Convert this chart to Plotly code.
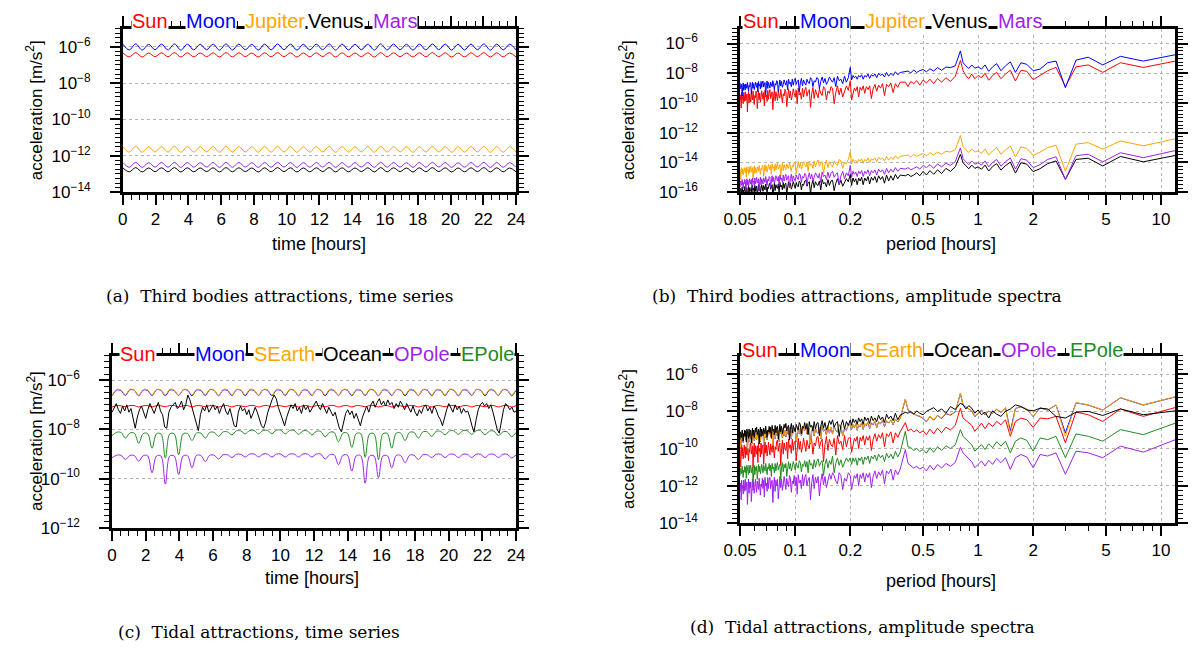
import numpy as np
import plotly.graph_objects as go

W, H = 1199, 652
SANS = "Liberation Sans, Arial, Helvetica, sans-serif"
SERIF = "DejaVu Serif, Liberation Serif, serif"

# ---------------------------------------------------------------- data
# values are log10 of acceleration [m/s^2]

# (a) third bodies, time series
t_a = np.linspace(0, 24, 62)
moon_a = [
 -5.85,-6.17,-5.84,-6.18,-5.86,-6.16,-5.85,-6.17,-5.84,-6.18,
 -5.85,-6.17,-5.86,-6.16,-5.85,-6.18,-5.84,-6.17,-5.85,-6.16,
 -5.86,-6.18,-5.85,-6.17,-5.84,-6.16,-5.85,-6.18,-5.86,-6.17,
 -5.85,-6.16,-5.84,-6.18,-5.85,-6.17,-5.86,-6.16,-5.85,-6.18,
 -5.84,-6.17,-5.85,-6.16,-5.86,-6.18,-5.85,-6.17,-5.84,-6.16,
 -5.85,-6.18,-5.86,-6.17,-5.85,-6.16,-5.84,-6.18,-5.85,-6.17,
 -5.86,-6.18]
sun_a = [
 -6.33,-6.55,-6.32,-6.56,-6.34,-6.54,-6.33,-6.55,-6.32,-6.56,
 -6.33,-6.55,-6.34,-6.54,-6.33,-6.56,-6.32,-6.55,-6.33,-6.54,
 -6.34,-6.56,-6.33,-6.55,-6.32,-6.54,-6.33,-6.56,-6.34,-6.55,
 -6.33,-6.54,-6.32,-6.56,-6.33,-6.55,-6.34,-6.54,-6.33,-6.56,
 -6.32,-6.55,-6.33,-6.54,-6.34,-6.56,-6.33,-6.55,-6.32,-6.54,
 -6.33,-6.56,-6.34,-6.55,-6.33,-6.54,-6.32,-6.56,-6.33,-6.55,
 -6.34,-6.56]
jupiter_a = [
 -11.49,-11.80,-11.48,-11.81,-11.50,-11.79,-11.49,-11.80,-11.48,-11.81,
 -11.49,-11.80,-11.50,-11.79,-11.49,-11.81,-11.48,-11.80,-11.49,-11.79,
 -11.50,-11.81,-11.49,-11.80,-11.48,-11.79,-11.49,-11.81,-11.50,-11.80,
 -11.49,-11.79,-11.48,-11.81,-11.49,-11.80,-11.50,-11.79,-11.49,-11.81,
 -11.48,-11.80,-11.49,-11.79,-11.50,-11.81,-11.49,-11.80,-11.48,-11.79,
 -11.49,-11.81,-11.50,-11.80,-11.49,-11.79,-11.48,-11.81,-11.49,-11.80,
 -11.50,-11.81]
venus_a = [
 -12.66,-12.88,-12.65,-12.89,-12.67,-12.87,-12.66,-12.88,-12.65,-12.89,
 -12.66,-12.88,-12.67,-12.87,-12.66,-12.89,-12.65,-12.88,-12.66,-12.87,
 -12.67,-12.89,-12.66,-12.88,-12.65,-12.87,-12.66,-12.89,-12.67,-12.88,
 -12.66,-12.87,-12.65,-12.89,-12.66,-12.88,-12.67,-12.87,-12.66,-12.89,
 -12.65,-12.88,-12.66,-12.87,-12.67,-12.89,-12.66,-12.88,-12.65,-12.87,
 -12.66,-12.89,-12.67,-12.88,-12.66,-12.87,-12.65,-12.89,-12.66,-12.88,
 -12.67,-12.89]
mars_a = [
 -12.37,-12.63,-12.36,-12.64,-12.38,-12.62,-12.37,-12.63,-12.36,-12.64,
 -12.37,-12.63,-12.38,-12.62,-12.37,-12.64,-12.36,-12.63,-12.37,-12.62,
 -12.38,-12.64,-12.37,-12.63,-12.36,-12.62,-12.37,-12.64,-12.38,-12.63,
 -12.37,-12.62,-12.36,-12.64,-12.37,-12.63,-12.38,-12.62,-12.37,-12.64,
 -12.36,-12.63,-12.37,-12.62,-12.38,-12.64,-12.37,-12.63,-12.36,-12.62,
 -12.37,-12.64,-12.38,-12.63,-12.37,-12.62,-12.36,-12.64,-12.37,-12.63,
 -12.38,-12.64]

# spectra: periods of the harmonics of a 24 h record
harmonics = list(range(2, 31)) + list(range(32, 61, 2)) + list(range(64, 121, 2)) + list(range(123, 481, 3))
period = [24.0 / k for k in harmonics]

# (b) third bodies, amplitude spectra
sun_b = [
 -7.18,-7.61,-7.29,-7.94,-7.44,-7.57,-8.90,-7.60,-7.83,-8.15,-8.43,-7.87,-7.80,-8.52,-7.80,-8.05,-8.37,-7.94,-8.15,-8.47,-8.00,-8.30,-8.15,-8.37,-8.05,-8.37,-8.15,-7.83,-7.14,
 -8.2,-8.55,-8.3,-8.6,-8.35,-8.7,-8.4,-8.65,-8.45,-8.8,-8.5,-8.7,-8.55,-8.9,-8.6,
 -8.6,-8.95,-8.7,-9.3,-8.65,-8.9,-8.75,-9.5,-8.7,-9.0,-8.8,-9.2,-8.75,-9.05,-9.7,-8.85,-9.1,-8.9,-9.35,-8.85,-9.15,-8.95,-9.6,-8.9,-9.2,-9.0,-9.4,-9.8,-8.5,
 -9.15,-8.85,-9.3,-9.6,-9.0,-9.45,-8.85,-9.3,-10.05,-9.0,
 -8.9,-9.35,-9.2,-9.8,-9.05,-8.9,-9.5,-9.35,-9.05,-9.65,
 -9.4,-9.1,-9.7,-8.95,-9.4,-10.3,-9.1,-9.25,-9.55,-8.95,
 -9.15,-9.6,-9.0,-9.75,-9.3,-9.45,-9.0,-10.05,-9.15,-9.6,
 -9.35,-9.05,-9.5,-9.8,-9.2,-9.65,-9.05,-9.5,-10.25,-9.2,
 -9.08,-9.53,-9.38,-9.98,-9.23,-9.08,-9.68,-9.53,-9.23,-9.83,
 -9.55,-9.25,-9.85,-9.1,-9.55,-10.45,-9.25,-9.4,-9.7,-9.1,
 -9.3,-9.75,-9.15,-9.9,-9.45,-9.6,-9.15,-10.2,-9.3,-9.75,
 -9.48,-9.18,-9.63,-9.93,-9.33,-9.78,-9.18,-9.63,-10.38,-9.33,
 -9.2,-9.65,-9.5,-10.1,-9.35,-9.2,-9.8,-9.65,-9.35,-9.95,
 -9.7,-9.4,-10.0,-9.25,-9.7,-10.6,-9.4,-9.55,-9.85,-9.25,
 -9.45,-9.9,-9.3,-10.05,-9.6,-9.75,-9.3,-10.35,-9.45,-9.9]
moon_b = [
 -6.75,-7.18,-6.86,-7.44,-6.92,-7.12,-8.97,-7.18,-7.29,-7.72,-7.83,-7.40,-7.29,-7.94,-7.23,-7.50,-7.83,-7.35,-7.57,-7.87,-7.44,-7.72,-7.57,-7.66,-7.44,-7.68,-7.50,-7.29,-6.50,
 -7.50,-7.62,-7.58,-7.80,-7.62,-7.85,-7.70,-7.90,-7.75,-7.82,-7.95,-7.78,-7.98,-7.85,-7.90,
 -7.95,-8.1,-7.9,-8.15,-8.0,-8.2,-7.95,-8.25,-8.05,-8.15,-8.0,-8.3,-8.05,-8.2,-8.1,-8.35,-8.05,-8.25,-8.15,-8.4,-8.1,-8.25,-8.15,-8.4,-8.2,-8.3,-8.15,-8.45,-7.6,
 -8.3,-8.6,-8.2,-8.7,-8.4,-8.5,-8.2,-8.9,-8.3,-8.6,
 -8.45,-8.25,-8.55,-8.75,-8.35,-8.65,-8.25,-8.55,-9.05,-8.35,
 -8.3,-8.6,-8.5,-8.9,-8.4,-8.3,-8.7,-8.6,-8.4,-8.8,
 -8.65,-8.45,-8.85,-8.35,-8.65,-9.25,-8.45,-8.55,-8.75,-8.35,
 -8.5,-8.8,-8.4,-8.9,-8.6,-8.7,-8.4,-9.1,-8.5,-8.8,
 -8.65,-8.45,-8.75,-8.95,-8.55,-8.85,-8.45,-8.75,-9.25,-8.55,
 -8.5,-8.8,-8.7,-9.1,-8.6,-8.5,-8.9,-8.8,-8.6,-9.0,
 -8.82,-8.62,-9.02,-8.52,-8.82,-9.42,-8.62,-8.72,-8.92,-8.52,
 -8.65,-8.95,-8.55,-9.05,-8.75,-8.85,-8.55,-9.25,-8.65,-8.95,
 -8.8,-8.6,-8.9,-9.1,-8.7,-9.0,-8.6,-8.9,-9.4,-8.7,
 -8.62,-8.92,-8.82,-9.22,-8.72,-8.62,-9.02,-8.92,-8.72,-9.12,
 -8.95,-8.75,-9.15,-8.65,-8.95,-9.55,-8.75,-8.85,-9.05,-8.65]
jupiter_b = [
 -12.41,-12.88,-12.56,-13.10,-12.67,-12.77,-14.60,-12.85,-13.00,-13.31,-13.53,-13.05,-12.95,-13.63,-12.90,-13.15,-13.45,-13.00,-13.22,-13.50,-13.10,-13.38,-13.22,-13.30,-13.10,-13.33,-13.15,-12.95,-12.19,
 -13.15,-13.3,-13.25,-13.45,-13.3,-13.5,-13.35,-13.55,-13.4,-13.5,-13.6,-13.45,-13.65,-13.5,-13.55,
 -13.6,-13.75,-13.55,-13.8,-13.65,-13.85,-13.6,-13.9,-13.7,-13.8,-13.65,-13.95,-13.7,-13.85,-13.75,-14.0,-13.7,-13.9,-13.8,-14.05,-13.75,-13.9,-13.8,-14.05,-13.85,-13.95,-13.8,-14.1,-13.3,
 -13.8,-14.1,-14.0,-14.4,-13.9,-13.8,-14.2,-14.1,-13.9,-14.3,
 -14.15,-13.95,-14.35,-13.85,-14.15,-14.75,-13.95,-14.05,-14.25,-13.85,
 -14.0,-14.3,-13.9,-14.4,-14.1,-14.2,-13.9,-14.6,-14.0,-14.3,
 -14.15,-13.95,-14.25,-14.45,-14.05,-14.35,-13.95,-14.25,-14.75,-14.05,
 -14.0,-14.3,-14.2,-14.6,-14.1,-14.0,-14.4,-14.3,-14.1,-14.5,
 -14.35,-14.15,-14.55,-14.05,-14.35,-14.95,-14.15,-14.25,-14.45,-14.05,
 -14.2,-14.5,-14.1,-14.6,-14.3,-14.4,-14.1,-14.8,-14.2,-14.5,
 -14.35,-14.15,-14.45,-14.65,-14.25,-14.55,-14.15,-14.45,-14.95,-14.25,
 -14.2,-14.5,-14.4,-14.8,-14.3,-14.2,-14.6,-14.5,-14.3,-14.7,
 -14.55,-14.35,-14.75,-14.25,-14.55,-15.15,-14.35,-14.45,-14.65,-14.25,
 -14.4,-14.7,-14.3,-14.8,-14.5,-14.6,-14.3,-15.0,-14.4,-14.7,
 -14.55,-14.35,-14.65,-14.85,-14.45,-14.75,-14.35,-14.65,-15.15,-14.45]
venus_b = [
 -13.53,-13.96,-13.60,-14.24,-13.72,-13.80,-15.14,-13.90,-14.08,-14.42,-14.62,-14.12,-14.02,-14.72,-13.98,-14.22,-14.52,-14.08,-14.28,-14.58,-14.18,-14.46,-14.30,-14.40,-14.18,-14.43,-14.22,-14.02,-13.46,
 -14.3,-14.6,-14.4,-14.75,-14.5,-14.8,-14.55,-14.85,-14.6,-14.9,-14.7,-14.85,-14.95,-14.8,-14.9,
 -14.85,-15.1,-14.8,-15.2,-14.9,-15.25,-14.85,-15.4,-14.95,-15.15,-14.9,-15.35,-14.95,-15.2,-15.0,-15.45,-14.95,-15.25,-15.05,-15.5,-15.0,-15.25,-15.05,-15.5,-15.1,-15.3,-15.05,-15.55,-14.8,
 -15.3,-15.1,-15.4,-15.6,-15.2,-15.5,-15.1,-15.4,-15.9,-15.2,
 -15.25,-15.55,-15.15,-15.65,-15.35,-15.45,-15.15,-15.85,-15.25,-15.55,
 -15.5,-15.3,-15.7,-15.2,-15.5,-16.1,-15.3,-15.4,-15.6,-15.2,
 -15.25,-15.55,-15.45,-15.85,-15.35,-15.25,-15.65,-15.55,-15.35,-15.75,
 -15.5,-15.3,-15.6,-15.8,-15.4,-15.7,-15.3,-15.6,-16.1,-15.4,
 -15.45,-15.75,-15.35,-15.85,-15.55,-15.65,-15.35,-16.05,-15.45,-15.75,
 -15.7,-15.5,-15.9,-15.4,-15.7,-16.3,-15.5,-15.6,-15.8,-15.4,
 -15.45,-15.75,-15.65,-16.05,-15.55,-15.45,-15.85,-15.75,-15.55,-15.95,
 -15.7,-15.5,-15.8,-16.0,-15.6,-15.9,-15.5,-15.8,-16.3,-15.6,
 -15.65,-15.95,-15.55,-16.05,-15.75,-15.85,-15.55,-16.25,-15.65,-15.95,
 -15.9,-15.7,-16.1,-15.6,-15.9,-16.5,-15.7,-15.8,-16.0,-15.6,
 -15.65,-15.95,-15.85,-16.25,-15.75,-15.65,-16.05,-15.95,-15.75,-16.15]
mars_b = [
 -13.20,-13.68,-13.35,-13.96,-13.45,-13.55,-15.14,-13.62,-13.80,-14.15,-14.35,-13.85,-13.75,-14.45,-13.70,-13.95,-14.25,-13.80,-14.00,-14.30,-13.90,-14.18,-14.02,-14.12,-13.90,-14.15,-13.95,-13.75,-13.03,
 -13.95,-14.2,-14.05,-14.3,-14.1,-14.4,-14.15,-14.35,-14.2,-14.45,-14.3,-14.4,-14.5,-14.35,-14.45,
 -14.4,-14.6,-14.35,-14.65,-14.45,-14.7,-14.4,-14.8,-14.5,-14.65,-14.45,-14.85,-14.5,-14.7,-14.55,-14.9,-14.5,-14.75,-14.6,-14.95,-14.55,-14.75,-14.6,-14.95,-14.65,-14.8,-14.6,-15.0,-14.2,
 -14.9,-14.7,-15.1,-14.6,-14.9,-15.5,-14.7,-14.8,-15.0,-14.6,
 -14.75,-15.05,-14.65,-15.15,-14.85,-14.95,-14.65,-15.35,-14.75,-15.05,
 -14.9,-14.7,-15.0,-15.2,-14.8,-15.1,-14.7,-15.0,-15.5,-14.8,
 -14.75,-15.05,-14.95,-15.35,-14.85,-14.75,-15.15,-15.05,-14.85,-15.25,
 -15.1,-14.9,-15.3,-14.8,-15.1,-15.7,-14.9,-15.0,-15.2,-14.8,
 -14.95,-15.25,-14.85,-15.35,-15.05,-15.15,-14.85,-15.55,-14.95,-15.25,
 -15.1,-14.9,-15.2,-15.4,-15.0,-15.3,-14.9,-15.2,-15.7,-15.0,
 -14.95,-15.25,-15.15,-15.55,-15.05,-14.95,-15.35,-15.25,-15.05,-15.45,
 -15.3,-15.1,-15.5,-15.0,-15.3,-15.9,-15.1,-15.2,-15.4,-15.0,
 -15.15,-15.45,-15.05,-15.55,-15.25,-15.35,-15.05,-15.75,-15.15,-15.45,
 -15.3,-15.1,-15.4,-15.6,-15.2,-15.5,-15.1,-15.4,-15.9,-15.2,
 -15.15,-15.45,-15.35,-15.75,-15.25,-15.15,-15.55,-15.45,-15.25,-15.65]

# (c) tidal attractions, time series
t_c = np.linspace(0, 24, 92)
sun_c = [
 -7.09,-7.03,-7.04,-7.08,-7.03,-7.03,-7.09,-7.04,-7.03,-7.09,-7.03,-7.04,-7.08,-7.03,-7.03,
 -7.09,-7.04,-7.03,-7.09,-7.03,-7.04,-7.08,-7.03,-7.03,-7.09,-7.04,-7.03,-7.09,-7.03,-7.04,
 -7.08,-7.03,-7.03,-7.09,-7.04,-7.03,-7.09,-7.03,-7.04,-7.08,-7.03,-7.03,-7.09,-7.04,-7.03,
 -7.09,-7.03,-7.04,-7.08,-7.03,-7.03,-7.09,-7.04,-7.03,-7.09,-7.03,-7.04,-7.08,-7.03,-7.03,
 -7.09,-7.04,-7.03,-7.09,-7.03,-7.04,-7.08,-7.03,-7.03,-7.09,-7.04,-7.03,-7.09,-7.03,-7.04,
 -7.08,-7.03,-7.03,-7.09,-7.04,-7.03,-7.09,-7.03,-7.04,-7.08,-7.03,-7.03,-7.09,-7.04,-7.03,
 -7.09,-7.03]
moon_c = [
 -6.63,-6.40,-6.42,-6.62,-6.39,-6.41,-6.63,-6.40,-6.42,-6.62,-6.39,-6.41,-6.63,-6.40,-6.42,
 -6.62,-6.39,-6.41,-6.63,-6.40,-6.42,-6.62,-6.39,-6.41,-6.63,-6.40,-6.42,-6.62,-6.39,-6.41,
 -6.63,-6.40,-6.42,-6.62,-6.39,-6.41,-6.63,-6.40,-6.42,-6.62,-6.39,-6.41,-6.63,-6.40,-6.42,
 -6.62,-6.39,-6.41,-6.63,-6.40,-6.42,-6.62,-6.39,-6.41,-6.63,-6.40,-6.42,-6.62,-6.39,-6.41,
 -6.63,-6.40,-6.42,-6.62,-6.39,-6.41,-6.63,-6.40,-6.42,-6.62,-6.39,-6.41,-6.63,-6.40,-6.42,
 -6.62,-6.39,-6.41,-6.63,-6.40,-6.42,-6.62,-6.39,-6.41,-6.63,-6.40,-6.42,-6.62,-6.39,-6.41,
 -6.63,-6.40]
searth_c = [
 -6.60,-6.38,-6.40,-6.59,-6.37,-6.40,-6.61,-6.38,-6.39,-6.60,-6.38,-6.40,-6.59,-6.37,-6.40,
 -6.61,-6.38,-6.39,-6.60,-6.38,-6.40,-6.59,-6.37,-6.40,-6.61,-6.38,-6.39,-6.60,-6.38,-6.40,
 -6.59,-6.37,-6.40,-6.61,-6.38,-6.39,-6.60,-6.38,-6.40,-6.59,-6.37,-6.40,-6.61,-6.38,-6.39,
 -6.60,-6.38,-6.40,-6.59,-6.37,-6.40,-6.61,-6.38,-6.39,-6.60,-6.38,-6.40,-6.59,-6.37,-6.40,
 -6.61,-6.38,-6.39,-6.60,-6.38,-6.40,-6.59,-6.37,-6.40,-6.61,-6.38,-6.39,-6.60,-6.38,-6.40,
 -6.59,-6.37,-6.40,-6.61,-6.38,-6.39,-6.60,-6.38,-6.40,-6.59,-6.37,-6.40,-6.61,-6.38,-6.39,
 -6.60,-6.38]
t_ocean = np.linspace(0, 24, 193)
ocean_c = [
 -7.3,-7.1,-6.95,-7.2,-7.35,-7.05,-7.25,-7.0,-7.3,-7.15,-7.6,-7.95,-7.5,-7.2,-7.05,-7.3,-7.55,-7.2,-6.95,-7.15,-7.35,-7.1,-6.9,-7.25,
 -7.4,-7.9,-7.95,-7.3,-7.1,-7.0,-6.9,-7.15,-7.05,-6.85,-7.2,-7.0,-6.6,-6.8,-7.1,-7.45,-7.7,-8.05,-7.4,-7.1,-7.25,-7.0,-7.3,-7.15,
 -7.0,-7.2,-7.05,-7.35,-7.1,-6.95,-7.25,-7.4,-7.15,-7.5,-7.85,-7.9,-7.3,-7.05,-7.25,-7.15,-7.4,-7.2,-7.55,-7.35,-7.1,-7.3,-7.6,-7.85,
 -7.95,-7.7,-7.3,-7.0,-6.8,-6.6,-6.75,-7.1,-7.35,-7.6,-7.85,-7.5,-7.2,-7.0,-7.15,-6.95,-7.25,-7.1,-7.35,-7.0,-7.2,-7.05,-7.3,-7.15,
 -7.0,-6.85,-7.05,-7.2,-6.95,-7.15,-7.35,-7.1,-7.25,-7.45,-7.3,-7.6,-7.95,-8.1,-7.7,-7.35,-7.2,-7.4,-7.25,-7.55,-7.35,-7.6,-7.85,-7.5,
 -7.25,-7.05,-7.3,-7.0,-6.85,-7.1,-6.9,-6.75,-7.0,-6.85,-7.05,-6.8,-7.0,-6.9,-7.15,-6.95,-7.1,-6.85,-7.0,-7.2,-6.95,-7.1,-7.3,-7.05,
 -7.3,-7.45,-7.2,-7.35,-7.1,-7.0,-7.25,-7.1,-7.35,-7.05,-7.2,-7.45,-7.6,-7.85,-7.5,-7.2,-6.95,-7.1,-7.3,-7.0,-7.2,-7.05,-7.35,-7.15,
 -7.3,-7.25,-7.5,-7.85,-8.1,-7.6,-7.2,-7.0,-6.9,-7.05,-6.95,-7.15,-7.0,-7.3,-7.6,-8.0,-8.15,-7.7,-7.2,-6.95,-7.05,-7.2,-7.1,-7.3,-7.25]
opole_c = [
 -9.15,-9.05,-9.05,-9.22,-9.06,-9.06,-9.29,-9.07,-9.07,-9.76,-9.08,-9.08,-10.22,-9.08,-9.08,
 -9.83,-9.08,-9.07,-9.56,-9.06,-9.06,-9.30,-9.05,-9.05,-9.20,-9.03,-9.03,-9.14,-9.01,-9.01,
 -9.12,-9.00,-9.00,-9.12,-9.00,-9.00,-9.12,-9.00,-9.00,-9.12,-9.00,-9.00,-9.12,-9.00,-9.00,
 -9.12,-9.00,-9.00,-9.20,-9.03,-9.03,-9.43,-9.05,-9.05,-9.69,-9.07,-9.07,-10.18,-9.08,-9.08,
 -9.96,-9.08,-9.07,-9.56,-9.06,-9.06,-9.35,-9.05,-9.05,-9.22,-9.03,-9.03,-9.14,-9.01,-9.01,
 -9.14,-9.01,-9.01,-9.14,-9.01,-9.01,-9.14,-9.01,-9.01,-9.14,-9.01,-9.01,-9.14,-9.01,-9.01,
 -9.16,-9.03]
epole_c = [
 -8.25,-8.12,-8.12,-8.35,-8.15,-8.15,-8.56,-8.17,-8.17,-8.76,-8.18,-8.18,-9.16,-8.18,-8.18,
 -9.03,-8.18,-8.17,-8.45,-8.15,-8.15,-8.35,-8.12,-8.12,-8.28,-8.10,-8.10,-8.22,-8.06,-8.06,
 -8.18,-8.04,-8.04,-8.18,-8.04,-8.04,-8.17,-8.03,-8.03,-8.18,-8.04,-8.04,-8.20,-8.06,-8.06,
 -8.22,-8.08,-8.08,-8.30,-8.12,-8.12,-8.50,-8.15,-8.15,-8.73,-8.17,-8.17,-9.13,-8.18,-8.18,
 -9.23,-8.18,-8.17,-8.76,-8.15,-8.15,-8.45,-8.12,-8.12,-8.35,-8.10,-8.10,-8.28,-8.08,-8.08,
 -8.22,-8.06,-8.06,-8.20,-8.05,-8.05,-8.20,-8.05,-8.05,-8.22,-8.07,-8.07,-8.25,-8.10,-8.10,
 -8.30,-8.12]

# (d) tidal attractions, amplitude spectra
sun_d = [
 -7.79,-8.27,-7.87,-8.54,-8.18,-8.04,-9.69,-8.27,-8.40,-8.36,-8.86,-8.45,-8.36,-8.54,-9.34,-8.45,-8.72,-8.54,-8.81,-8.63,-8.93,-8.63,-8.86,-9.07,-8.75,-8.63,-8.50,-8.36,-7.83,
 -8.75,-9.0,-8.85,-9.15,-8.9,-9.2,-8.95,-9.25,-9.05,-9.15,-9.0,-9.1,-8.95,-9.05,-8.6,
 -9.1,-9.4,-9.15,-9.7,-9.1,-9.35,-9.2,-9.9,-9.15,-9.45,-9.25,-9.6,-9.2,-9.5,-10.1,-9.3,-9.55,-9.35,-9.8,-9.3,-9.6,-9.4,-10.0,-9.35,-9.6,-9.45,-9.85,-10.2,-9.4,
 -9.45,-9.9,-9.3,-10.05,-9.6,-9.75,-9.3,-10.35,-9.45,-9.9,
 -9.8,-9.5,-10.1,-9.35,-9.8,-10.7,-9.5,-9.65,-9.95,-9.35,
 -9.4,-9.85,-9.7,-10.3,-9.55,-9.4,-10.0,-9.85,-9.55,-10.15,
 -9.75,-9.45,-9.9,-10.2,-9.6,-10.05,-9.45,-9.9,-10.65,-9.6,
 -9.65,-10.1,-9.5,-10.25,-9.8,-9.95,-9.5,-10.55,-9.65,-10.1,
 -10.0,-9.7,-10.3,-9.55,-10.0,-10.9,-9.7,-9.85,-10.15,-9.55,
 -9.6,-10.05,-9.9,-10.5,-9.75,-9.6,-10.2,-10.05,-9.75,-10.35,
 -9.95,-9.65,-10.1,-10.4,-9.8,-10.25,-9.65,-10.1,-10.85,-9.8,
 -9.85,-10.3,-9.7,-10.45,-10.0,-10.15,-9.7,-10.75,-9.85,-10.3,
 -10.15,-9.85,-10.45,-9.7,-10.15,-11.05,-9.85,-10.0,-10.3,-9.7,
 -9.75,-10.2,-10.05,-10.65,-9.9,-9.75,-10.35,-10.2,-9.9,-10.5,
 -10.1,-9.8,-10.25,-10.55,-9.95,-10.4,-9.8,-10.25,-11.0,-9.95]
moon_d = [
 -7.22,-7.66,-7.27,-7.93,-7.66,-7.54,-9.16,-7.66,-7.93,-7.81,-8.28,-7.88,-7.75,-7.84,-9.07,-7.81,-8.05,-7.88,-8.11,-7.98,-8.19,-7.93,-8.11,-8.28,-7.98,-7.88,-7.75,-7.66,-7.04,
 -8.02,-8.2,-8.12,-8.38,-8.22,-8.47,-8.27,-8.56,-8.38,-8.27,-8.22,-8.12,-8.07,-7.92,-7.35,
 -8.38,-8.57,-8.42,-8.72,-8.47,-8.62,-8.52,-8.82,-8.47,-8.67,-8.57,-8.87,-8.52,-8.72,-8.62,-8.92,-8.57,-8.77,-8.67,-8.97,-8.62,-8.82,-8.72,-9.02,-8.67,-8.87,-8.72,-8.97,-8.72,
 -8.72,-9.02,-8.92,-9.32,-8.82,-8.72,-9.12,-9.02,-8.82,-9.22,
 -8.87,-9.17,-8.77,-9.27,-8.97,-9.07,-8.77,-9.47,-8.87,-9.17,
 -9.12,-8.92,-9.32,-8.82,-9.12,-9.72,-8.92,-9.02,-9.22,-8.82,
 -9.02,-8.82,-9.12,-9.32,-8.92,-9.22,-8.82,-9.12,-9.62,-8.92,
 -8.87,-9.17,-9.07,-9.47,-8.97,-8.87,-9.27,-9.17,-8.97,-9.37,
 -9.02,-9.32,-8.92,-9.42,-9.12,-9.22,-8.92,-9.62,-9.02,-9.32,
 -9.27,-9.07,-9.47,-8.97,-9.27,-9.87,-9.07,-9.17,-9.37,-8.97,
 -9.22,-9.02,-9.32,-9.52,-9.12,-9.42,-9.02,-9.32,-9.82,-9.12,
 -9.02,-9.32,-9.22,-9.62,-9.12,-9.02,-9.42,-9.32,-9.12,-9.52,
 -9.17,-9.47,-9.07,-9.57,-9.27,-9.37,-9.07,-9.77,-9.17,-9.47,
 -9.42,-9.22,-9.62,-9.12,-9.42,-10.02,-9.22,-9.32,-9.52,-9.12,
 -9.37,-9.17,-9.47,-9.67,-9.27,-9.57,-9.17,-9.47,-9.97,-9.27]
searth_d = [
 -7.21,-7.65,-7.26,-7.92,-7.65,-7.53,-9.34,-7.65,-7.92,-7.80,-8.27,-7.87,-7.74,-7.83,-9.25,-7.80,-8.04,-7.87,-8.10,-7.97,-8.18,-7.92,-8.10,-8.27,-7.97,-7.87,-7.74,-7.65,-7.03,
 -8.0,-8.18,-8.1,-8.36,-8.2,-8.45,-8.25,-8.54,-8.36,-8.25,-8.2,-8.1,-8.05,-7.9,-7.33,
 -8.36,-8.55,-8.4,-8.7,-8.45,-8.6,-8.5,-8.8,-8.45,-8.65,-8.55,-8.85,-8.5,-8.7,-8.6,-8.9,-8.55,-8.75,-8.65,-8.95,-8.6,-8.8,-8.7,-9.0,-8.65,-8.85,-8.7,-8.95,-8.7,
 -8.7,-9.0,-8.9,-9.3,-8.8,-8.7,-9.1,-9.0,-8.8,-9.2,
 -8.85,-9.15,-8.75,-9.25,-8.95,-9.05,-8.75,-9.45,-8.85,-9.15,
 -9.1,-8.9,-9.3,-8.8,-9.1,-9.7,-8.9,-9.0,-9.2,-8.8,
 -9.0,-8.8,-9.1,-9.3,-8.9,-9.2,-8.8,-9.1,-9.6,-8.9,
 -8.85,-9.15,-9.05,-9.45,-8.95,-8.85,-9.25,-9.15,-8.95,-9.35,
 -9.0,-9.3,-8.9,-9.4,-9.1,-9.2,-8.9,-9.6,-9.0,-9.3,
 -9.25,-9.05,-9.45,-8.95,-9.25,-9.85,-9.05,-9.15,-9.35,-8.95,
 -9.2,-9.0,-9.3,-9.5,-9.1,-9.4,-9.0,-9.3,-9.8,-9.1,
 -9.0,-9.3,-9.2,-9.6,-9.1,-9.0,-9.4,-9.3,-9.1,-9.5,
 -9.15,-9.45,-9.05,-9.55,-9.25,-9.35,-9.05,-9.75,-9.15,-9.45,
 -9.4,-9.2,-9.6,-9.1,-9.4,-10.0,-9.2,-9.3,-9.5,-9.1,
 -9.35,-9.15,-9.45,-9.65,-9.25,-9.55,-9.15,-9.45,-9.95,-9.25]
ocean_d = [
 -7.97,-8.18,-7.87,-8.22,-8.00,-8.04,-8.36,-8.27,-7.87,-7.83,-7.97,-7.92,-7.74,-7.65,-7.87,-8.00,-8.27,-8.15,-7.97,-8.36,-8.04,-8.18,-7.92,-8.10,-7.83,-7.69,-7.87,-7.65,-7.56,
 -7.9,-7.74,-8.1,-7.87,-8.0,-7.8,-7.92,-8.0,-8.18,-8.1,-7.97,-8.15,-8.0,-8.1,-8.05,
 -8.2,-8.45,-8.1,-8.5,-8.25,-8.4,-8.15,-8.6,-8.3,-8.45,-8.2,-8.55,-8.35,-8.5,-8.25,-8.65,-8.35,-8.5,-8.3,-8.7,-8.4,-8.55,-8.35,-8.7,-8.45,-8.6,-8.4,-8.75,-8.45,
 -8.75,-8.55,-8.95,-8.45,-8.75,-9.35,-8.55,-8.65,-8.85,-8.45,
 -8.7,-8.5,-8.8,-9.0,-8.6,-8.9,-8.5,-8.8,-9.3,-8.6,
 -8.65,-8.95,-8.55,-9.05,-8.75,-8.85,-8.55,-9.25,-8.65,-8.95,
 -8.6,-8.9,-8.8,-9.2,-8.7,-8.6,-9.0,-8.9,-8.7,-9.1,
 -8.95,-8.75,-9.15,-8.65,-8.95,-9.55,-8.75,-8.85,-9.05,-8.65,
 -8.9,-8.7,-9.0,-9.2,-8.8,-9.1,-8.7,-9.0,-9.5,-8.8,
 -8.85,-9.15,-8.75,-9.25,-8.95,-9.05,-8.75,-9.45,-8.85,-9.15,
 -8.8,-9.1,-9.0,-9.4,-8.9,-8.8,-9.2,-9.1,-8.9,-9.3,
 -9.15,-8.95,-9.35,-8.85,-9.15,-9.75,-8.95,-9.05,-9.25,-8.85,
 -9.1,-8.9,-9.2,-9.4,-9.0,-9.3,-8.9,-9.2,-9.7,-9.0,
 -9.05,-9.35,-8.95,-9.45,-9.15,-9.25,-8.95,-9.65,-9.05,-9.35,
 -9.0,-9.3,-9.2,-9.6,-9.1,-9.0,-9.4,-9.3,-9.1,-9.5]
opole_d = [
 -9.52,-10.19,-9.87,-10.49,-10.23,-10.14,-11.38,-10.23,-10.40,-10.32,-11.03,-10.45,-10.32,-10.49,-11.12,-10.49,-10.76,-10.53,-10.85,-10.63,-10.94,-10.67,-10.85,-11.03,-10.71,-10.53,-10.36,-10.23,-9.93,
 -10.75,-10.95,-10.8,-11.05,-10.85,-11.15,-10.9,-11.2,-11.0,-11.1,-10.95,-11.05,-10.9,-10.8,-10.05,
 -11.1,-11.4,-11.15,-11.7,-11.1,-11.35,-11.2,-11.9,-11.15,-11.45,-11.25,-11.6,-11.2,-11.5,-12.1,-11.3,-11.55,-11.35,-11.8,-11.3,-11.6,-11.4,-12.0,-11.35,-11.6,-11.45,-11.85,-12.2,-11.45,
 -11.3,-11.75,-11.6,-12.2,-11.45,-11.3,-11.9,-11.75,-11.45,-11.3,
 -11.65,-11.35,-11.8,-12.1,-11.5,-11.95,-11.35,-11.8,-12.55,-11.5,
 -11.85,-11.55,-12.15,-11.4,-11.85,-12.75,-11.55,-11.7,-12.0,-11.4,
 -11.55,-12.0,-11.4,-12.15,-11.7,-11.85,-11.4,-12.45,-11.55,-12.0,
 -11.45,-11.9,-11.75,-12.35,-11.6,-11.45,-12.05,-11.9,-11.6,-12.2,
 -11.8,-11.5,-11.95,-12.25,-11.65,-12.1,-11.5,-11.95,-12.7,-11.65,
 -12.0,-11.7,-12.3,-11.55,-12.0,-12.9,-11.7,-11.85,-12.15,-11.55,
 -11.7,-12.15,-11.55,-12.3,-11.85,-12.0,-11.55,-12.6,-11.7,-12.15,
 -11.6,-12.05,-11.9,-12.5,-11.75,-11.6,-12.2,-12.05,-11.75,-12.35,
 -11.95,-11.65,-12.1,-12.4,-11.8,-12.25,-11.65,-12.1,-12.85,-11.8,
 -12.1,-11.8,-12.4,-11.65,-12.1,-13.0,-11.8,-11.95,-12.25,-11.65,
 -11.85,-12.3,-11.7,-12.45,-12.0,-12.15,-11.7,-12.75,-11.85,-12.3]
epole_d = [
 -8.63,-9.25,-8.98,-9.60,-9.34,-9.21,-10.49,-9.34,-9.52,-9.43,-10.14,-9.56,-9.43,-9.60,-10.23,-9.60,-9.87,-9.63,-9.96,-9.74,-10.05,-9.78,-9.96,-10.14,-9.81,-9.63,-9.45,-9.34,-8.98,
 -9.8,-10.0,-9.85,-10.1,-9.9,-10.2,-9.95,-10.25,-10.05,-10.15,-10.0,-10.1,-9.95,-9.9,-9.07,
 -10.2,-10.45,-10.15,-10.55,-10.3,-10.5,-10.25,-10.7,-10.35,-10.5,-10.3,-10.65,-10.35,-10.55,-10.4,-10.8,-10.4,-10.6,-10.45,-10.85,-10.45,-10.65,-10.5,-10.9,-10.5,-10.7,-10.5,-10.85,-10.5,
 -10.7,-10.5,-10.8,-11.0,-10.6,-10.9,-10.5,-10.8,-11.3,-10.4,
 -10.85,-10.65,-11.05,-10.55,-10.85,-11.45,-10.65,-10.75,-10.95,-10.55,
 -10.7,-11.0,-10.6,-11.1,-10.8,-10.9,-10.6,-11.3,-10.7,-11.0,
 -10.65,-10.95,-10.85,-11.25,-10.75,-10.65,-11.05,-10.95,-10.75,-11.15,
 -10.9,-10.7,-11.0,-11.2,-10.8,-11.1,-10.7,-11.0,-11.5,-10.8,
 -11.05,-10.85,-11.25,-10.75,-11.05,-11.65,-10.85,-10.95,-11.15,-10.75,
 -10.9,-11.2,-10.8,-11.3,-11.0,-11.1,-10.8,-11.5,-10.9,-11.2,
 -10.8,-11.1,-11.0,-11.4,-10.9,-10.8,-11.2,-11.1,-10.9,-11.3,
 -11.05,-10.85,-11.15,-11.35,-10.95,-11.25,-10.85,-11.15,-11.65,-10.95,
 -11.2,-11.0,-11.4,-10.9,-11.2,-11.8,-11.0,-11.1,-11.3,-10.9,
 -11.0,-11.3,-10.9,-11.4,-11.1,-11.2,-10.9,-11.6,-11.0,-11.3,
 -10.95,-11.25,-11.15,-11.55,-11.05,-10.95,-11.35,-11.25,-11.05,-11.45]

for name, arr, ref in [("moon_a", moon_a, t_a), ("sun_a", sun_a, t_a), ("jupiter_a", jupiter_a, t_a),
                       ("venus_a", venus_a, t_a), ("mars_a", mars_a, t_a),
                       ("sun_b", sun_b, period), ("moon_b", moon_b, period), ("jupiter_b", jupiter_b, period),
                       ("venus_b", venus_b, period), ("mars_b", mars_b, period),
                       ("sun_c", sun_c, t_c), ("moon_c", moon_c, t_c), ("searth_c", searth_c, t_c),
                       ("ocean_c", ocean_c, t_ocean), ("opole_c", opole_c, t_c), ("epole_c", epole_c, t_c),
                       ("sun_d", sun_d, period), ("moon_d", moon_d, period), ("searth_d", searth_d, period),
                       ("ocean_d", ocean_d, period), ("opole_d", opole_d, period), ("epole_d", epole_d, period)]:
    assert len(arr) == len(ref), (name, len(arr), len(ref))

RED, BLUE, ORANGE, BLACK, PURPLE, GREEN = "#ff0000", "#0000ff", "#ffa500", "#000000", "#a020f0", "#228b22"

# ---------------------------------------------------------------- figure
fig = go.Figure()


def add(x, ylog, color, ax, shape="linear", width=1.0):
    fig.add_trace(go.Scatter(x=list(x), y=[10.0 ** v for v in ylog], mode="lines",
                             line=dict(color=color, width=width, shape=shape),
                             xaxis="x" + ax, yaxis="y" + ax, showlegend=False, hoverinfo="skip"))


add(t_a, sun_a, RED, "", "spline")
add(t_a, moon_a, BLUE, "", "spline")
add(t_a, jupiter_a, ORANGE, "", "spline")
add(t_a, venus_a, BLACK, "", "spline")
add(t_a, mars_a, PURPLE, "", "spline")

add(period, sun_b, RED, "2")
add(period, moon_b, BLUE, "2")
add(period, jupiter_b, ORANGE, "2")
add(period, venus_b, BLACK, "2")
add(period, mars_b, PURPLE, "2")

add(t_c, sun_c, RED, "3", "spline")
add(t_c, moon_c, BLUE, "3", "spline")
add(t_c, searth_c, ORANGE, "3", "spline")
add(t_ocean, ocean_c, BLACK, "3")
add(t_c, opole_c, PURPLE, "3", "spline")
add(t_c, epole_c, GREEN, "3", "spline")

add(period, sun_d, RED, "4")
add(period, moon_d, BLUE, "4")
add(period, searth_d, ORANGE, "4")
add(period, ocean_d, BLACK, "4")
add(period, opole_d, PURPLE, "4")
add(period, epole_d, GREEN, "4")

# panel frames in pixels: (left, right, top, bottom)
PANELS = {"": (100, 502, 21, 187), "2": (731, 1176, 21, 187),
          "3": (89, 502, 353, 528), "4": (731, 1176, 353, 523)}
YR = {"": (-14, -5), "2": (-16, -5), "3": (-12, -5), "4": (-14, -5)}
STANDOFF = {"": 16, "2": 26, "3": 16, "4": 26}

common = dict(showline=True, linecolor="black", linewidth=2.5, mirror="allticks",
              ticks="outside", ticklen=10, tickwidth=1.5, tickcolor="black",
              zeroline=False, gridcolor="#b4b4b4", griddash="dot", gridwidth=1,
              tickfont=dict(family=SANS, size=17, color="black"))
minor_common = dict(ticks="outside", ticklen=5, tickwidth=1.2, tickcolor="black", showgrid=False)

lay = {}
for ax, (l, r, t, b) in PANELS.items():
    xd = [l / W, r / W]
    yd = [1 - b / H, 1 - t / H]
    lo, hi = YR[ax]
    majors = list(range(lo, hi, 2))
    minors = [lo + 0.25 * j for j in range(int((hi - lo) * 4) + 1)]
    minors = [10.0 ** m for m in minors if abs(m - round(m)) > 1e-9 or int(round(m)) not in majors]
    lay["yaxis" + ax] = dict(domain=yd, anchor="x" + ax, type="log", range=[lo, hi],
                             tickmode="array", tickvals=[10.0 ** e for e in majors],
                             ticktext=["10<sup>\u2212%d</sup>" % (-e) for e in majors],
                             showgrid=True, ticklabelstandoff=STANDOFF[ax],
                             minor=dict(tickmode="array", tickvals=minors, **minor_common), **common)
    if ax in ("", "3"):
        lay["xaxis" + ax] = dict(domain=xd, anchor="y" + ax, range=[0, 24], tickmode="array",
                                 tickvals=list(range(0, 25, 2)), ticktext=[str(v) for v in range(0, 25, 2)],
                                 showgrid=False, ticklabelstandoff=0,
                                 minor=dict(tickmode="linear", tick0=0, dtick=0.5, **minor_common), **common)
    else:
        pv = [0.05, 0.1, 0.2, 0.5, 1, 2, 5, 10]
        pm = [0.06, 0.07, 0.08, 0.09, 0.3, 0.4, 0.6, 0.7, 0.8, 0.9, 3, 4, 6, 7, 8, 9]
        lay["xaxis" + ax] = dict(domain=xd, anchor="y" + ax, type="log",
                                 range=[np.log10(0.05), np.log10(12)], tickmode="array",
                                 tickvals=pv, ticktext=["0.05", "0.1", "0.2", "0.5", "1", "2", "5", "10"],
                                 showgrid=True, ticklabelstandoff=0,
                                 minor=dict(tickmode="array", tickvals=pm, **minor_common), **common)

# grid-only overlay axes for the time panels (grid every 4 hours)
for ov, base in (("5", ""), ("6", "3")):
    l, r, t, b = PANELS[base]
    lay["xaxis" + ov] = dict(domain=[l / W, r / W], overlaying="x" + base, anchor="y" + base,
                             range=[0, 24], tickmode="array", tickvals=[4, 8, 12, 16, 20],
                             showgrid=True, gridcolor="#b4b4b4", griddash="dot", gridwidth=1,
                             showticklabels=False, ticks="", showline=False, zeroline=False)

fig.update_layout(width=W, height=H, autosize=False, margin=dict(l=0, r=0, t=0, b=0),
                  plot_bgcolor="white", paper_bgcolor="white", showlegend=False, **lay)


def ann(x, y, text, size=18, color="black", family=SANS, **kw):
    fig.add_annotation(x=x / W, y=1 - y / H, xref="paper", yref="paper", text=text, showarrow=False,
                       font=dict(family=family, size=size, color=color),
                       xanchor="center", yanchor="middle", **kw)


# legends sitting on the top frame
leg_a = [("Sun", RED, 128), ("Moon", BLUE, 190), ("Jupiter", ORANGE, 256), ("Venus", BLACK, 318), ("Mars", PURPLE, 378)]
leg_b = [("Sun", RED, 752), ("Moon", BLUE, 818), ("Jupiter", ORANGE, 889), ("Venus", BLACK, 956), ("Mars", PURPLE, 1017)]
leg_c = [("Sun", RED, 116), ("Moon", BLUE, 199), ("SEarth", ORANGE, 265), ("Ocean", BLACK, 335), ("OPole", PURPLE, 406), ("EPole", GREEN, 473)]
leg_d = [("Sun", RED, 751), ("Moon", BLUE, 818), ("SEarth", ORANGE, 887), ("Ocean", BLACK, 959), ("OPole", PURPLE, 1026), ("EPole", GREEN, 1095)]
for items, yy in ((leg_a, 13), (leg_b, 13), (leg_c, 351), (leg_d, 347)):
    for txt, col, xx in items:
        ann(xx, yy, txt, size=20, color=col, bgcolor="white", borderpad=0)

# axis titles
ylab = "acceleration [m/s<sup>2</sup>]"
ann(10, 104, ylab, size=17, textangle=-90)
ann(616, 104, ylab, size=17, textangle=-90)
ann(10, 440, ylab, size=17, textangle=-90)
ann(616, 438, ylab, size=17, textangle=-90)
ann(301, 240, "time [hours]")
ann(936, 240, "period [hours]")
ann(293, 579, "time [hours]")
ann(936, 582, "period [hours]")

# sub-figure captions
ann(261, 292, "(a)  Third bodies attractions, time series", size=17, family=SERIF)
ann(850, 292, "(b)  Third bodies attractions, amplitude spectra", size=17, family=SERIF)
ann(239, 634, "(c)  Tidal attractions, time series", size=17, family=SERIF)
ann(856, 629, "(d)  Tidal attractions, amplitude spectra", size=17, family=SERIF)

fig.write_html("out.html")
